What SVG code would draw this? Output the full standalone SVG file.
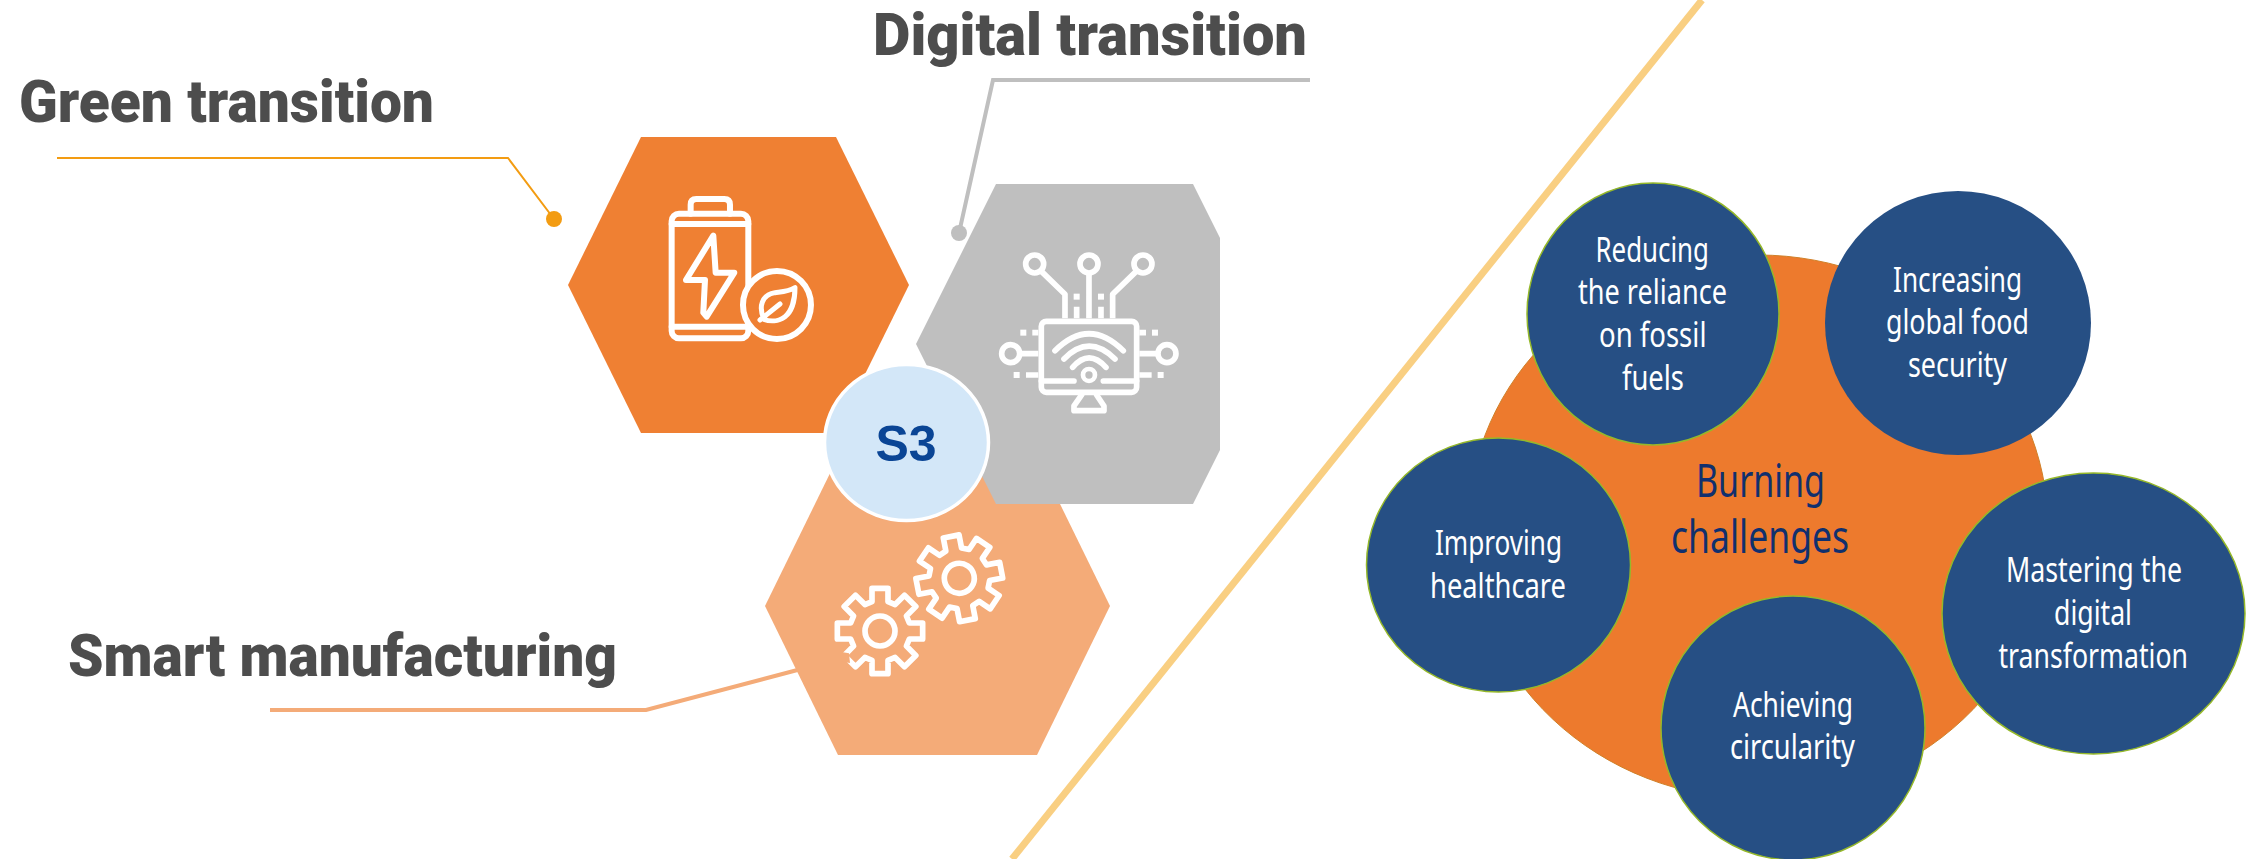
<svg xmlns="http://www.w3.org/2000/svg" width="2252" height="859" viewBox="0 0 2252 859">
<style>
text{font-family:"Noto Sans","Open Sans","DejaVu Sans",sans-serif}
.h{font-family:Roboto,"Liberation Sans",sans-serif;font-size:59px;font-weight:900;fill:#4d4d4d}
.c{font-size:34px;fill:#fff;font-weight:400}
.b{font-size:46px;fill:#10306e;font-weight:400}
.disc{fill:#264f84;stroke:#95b82a;stroke-width:1.5}
.i{fill:none;stroke:#fff;stroke-linecap:round;stroke-linejoin:round}
.sq{fill:#fff;stroke:none}
</style>
<defs>
<g id="gear">
<path class="i" stroke-width="17" d="M-24-88V-128H24V-88L45.3-79.2 73.5-107.500 107.500-73.500 79.2-45.3 88-24H128V24H88L79.2 45.3 107.500 73.500 73.500 107.500 45.3 79.2 24 88V128H-24V88L-45.3 79.2-73.500 107.500-107.500 73.500-79.2 45.3-88 24H-128V-24H-88L-79.2-45.3-107.500-73.500-73.500-107.500-45.3-79.200Z"/>
<circle class="i" stroke-width="17" r="45"/>
</g>
</defs>
<g id="connectors" fill="none">
<path d="M1012 859 1702 0" stroke="#f9cf82" stroke-width="7"/>
<path d="M57 158H508L554 219" stroke="#f39c12" stroke-width="2"/>
<circle cx="554" cy="219" r="8" fill="#f39c12"/>
<path d="M1310 80H993L959 233" stroke="#bfbfbf" stroke-width="4"/>
<circle cx="959" cy="233" r="8" fill="#bfbfbf"/>
<path d="M270 710H646L805 668" stroke="#f4ab78" stroke-width="4"/>
</g>
<g id="smart-manufacturing">
<polygon points="838,457 1037,457 1110,606 1037,755 838,755 765,606" fill="#f4ab78"/>
<use href="#gear" transform="translate(880 631) scale(.3333)"/>
<use href="#gear" transform="translate(959.300 578.300) rotate(-11) scale(.3333)"/>
<polygon points="840,651.700 849,653.300 850,663 841.700,661.700" fill="#f4ab78"/>
<text class="h" x="68" y="676" textLength="549" lengthAdjust="spacingAndGlyphs">Smart manufacturing</text>
</g>
<g id="green-transition">
<polygon points="641,137 836,137 909,285 836,433 641,433 568,285" fill="#ef8033"/>
<g transform="translate(540 120) scale(.3333)">
<path class="i" stroke-width="18" d="M452 281V254Q452 237 469 237H553Q570 237 570 254V281"/>
<rect class="i" stroke-width="18" x="395" y="281" width="230" height="374" rx="22"/>
<path class="i" stroke-width="18" d="M395 312H625M395 620H625"/>
<path class="i" stroke-width="18" d="M520 347 527 458H583L500 590 490 578 495 480H438Z"/>
<circle cx="711" cy="555" r="102" fill="#ef8033" stroke="#fff" stroke-width="18"/>
<path class="i" stroke-width="15" d="M672 598C655 560 665 525 705 518 730 515 745 515 765 503 765 540 755 575 735 590 715 605 690 605 672 598ZM660 600 720 552"/>
</g>
<text class="h" x="19" y="122" textLength="415" lengthAdjust="spacingAndGlyphs">Green transition</text>
</g>
<g id="digital-transition">
<polygon points="996,184 1193,184 1220,238 1220,450 1193,504 996,504 916,344" fill="#bfbfbf"/>
<g transform="translate(900 160) scale(.3333)">
<g class="i" stroke-width="17">
<circle cx="404" cy="312" r="27"/><circle cx="567" cy="312" r="27"/><circle cx="729" cy="312" r="27"/><circle cx="332" cy="581" r="27"/><circle cx="801" cy="581" r="27"/>
<path stroke-linecap="butt" d="M425 335 495 403V475M567 340V475M708 335 638 403V475M530 440V475M603 440V475M360 581H415M718 581H770M378 645H415M718 645H755M397 518H415M718 518H738"/>
<rect x="424" y="484" width="286" height="213" rx="15"/>
<path d="M424 663H522M610 663H710M545 705 522 738V752H612V738L590 705"/>
<path d="M465 572Q567 470 670 572M492 597Q567 520 645 597M518 622Q567 565 618 622"/>
<circle cx="567" cy="645" r="18" stroke-width="14"/>
</g>
<g class="sq">
<rect x="521" y="401" width="18" height="18"/><rect x="594" y="401" width="18" height="18"/><rect x="361" y="509" width="18" height="18"/><rect x="756" y="509" width="18" height="18"/><rect x="341" y="636" width="18" height="18"/><rect x="773" y="636" width="18" height="18"/>
</g>
</g>
<text class="h" x="873" y="55" textLength="434" lengthAdjust="spacingAndGlyphs">Digital transition</text>
</g>
<g id="s3">
<ellipse cx="906.500" cy="442.500" rx="82" ry="78" fill="#d3e7f8" stroke="#fff" stroke-width="3.500"/>
<text x="906" y="461" text-anchor="middle" style="font-family:'Liberation Sans',Arial,sans-serif;font-weight:700;font-size:50px;fill:#0a4595">S3</text>
</g>
<g id="burning-challenges">
<ellipse cx="1758" cy="527" rx="290" ry="272" fill="#ed7a2d" stroke="#d08028" stroke-width="1"/>
<text class="b" x="1696" y="497" textLength="129" lengthAdjust="spacingAndGlyphs">Burning</text>
<text class="b" x="1671" y="553" textLength="178" lengthAdjust="spacingAndGlyphs">challenges</text>
</g>
<g id="reducing">
<ellipse class="disc" cx="1653" cy="314" rx="126" ry="131"/>
<text class="c" x="1595.500" y="262" textLength="113.500" lengthAdjust="spacingAndGlyphs">Reducing</text>
<text class="c" x="1578" y="304" textLength="149" lengthAdjust="spacingAndGlyphs">the reliance</text>
<text class="c" x="1599" y="347" textLength="107.500" lengthAdjust="spacingAndGlyphs">on fossil</text>
<text class="c" x="1622" y="390" textLength="62" lengthAdjust="spacingAndGlyphs">fuels</text>
</g>
<g id="increasing">
<ellipse cx="1958" cy="323" rx="133" ry="132" fill="#264f84"/>
<text class="c" x="1893" y="292" textLength="129" lengthAdjust="spacingAndGlyphs">Increasing</text>
<text class="c" x="1886" y="334" textLength="143" lengthAdjust="spacingAndGlyphs">global food</text>
<text class="c" x="1908" y="377" textLength="99" lengthAdjust="spacingAndGlyphs">security</text>
</g>
<g id="improving">
<ellipse class="disc" cx="1498.500" cy="565" rx="132" ry="127"/>
<text class="c" x="1435" y="555" textLength="127" lengthAdjust="spacingAndGlyphs">Improving</text>
<text class="c" x="1430" y="598" textLength="136" lengthAdjust="spacingAndGlyphs">healthcare</text>
</g>
<g id="mastering">
<ellipse class="disc" cx="2093.500" cy="613.500" rx="151.500" ry="140.500"/>
<text class="c" x="2006" y="582" textLength="176" lengthAdjust="spacingAndGlyphs">Mastering the</text>
<text class="c" x="2054" y="625" textLength="78" lengthAdjust="spacingAndGlyphs">digital</text>
<text class="c" x="1998.500" y="668" textLength="189.500" lengthAdjust="spacingAndGlyphs">transformation</text>
</g>
<g id="achieving">
<ellipse class="disc" cx="1793" cy="728" rx="132" ry="132"/>
<text class="c" x="1733" y="717" textLength="120" lengthAdjust="spacingAndGlyphs">Achieving</text>
<text class="c" x="1730" y="759" textLength="125" lengthAdjust="spacingAndGlyphs">circularity</text>
</g>
</svg>
